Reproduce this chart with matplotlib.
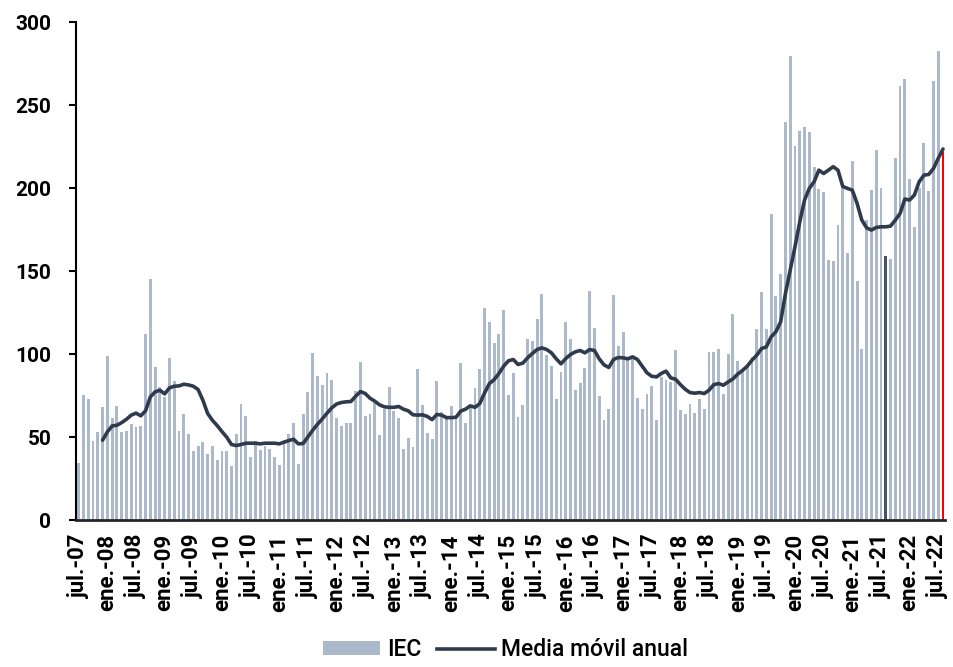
import numpy as np
import matplotlib.pyplot as plt
from matplotlib.lines import Line2D
from matplotlib.patches import Patch

# IEC monthly values, jul-07 .. aug-22
iec = [34.5, 75.5, 73, 48, 53, 68, 99, 61.5, 69, 53, 53.5, 58,
       56, 57, 112, 145, 92, 80.5, 74.5, 97.5, 84, 53.6, 64, 52,
       42, 45, 47, 40, 45, 36, 42, 41.5, 32.5, 51.8, 70.3, 62.9,
       38, 48, 42.6, 45, 43, 37.8, 33, 48.4, 51.8, 58.6, 33.7, 63.9,
       77, 100.6, 86.7, 81.3, 88.6, 84.7, 61.6, 57, 58.4, 58.6, 78, 95.4,
       63, 63.7, 70.7, 51.2, 67, 80, 65.7, 61.6, 42.7, 49.6, 44.4, 91,
       69.3, 52.4, 49.2, 84.1, 64.9, 61.8, 68.9, 62.7, 94.8, 58.4, 69.3, 79.7,
       91.2, 127.9, 119.5, 106.6, 112.4, 126.3, 75.3, 88.6, 62.4, 69.1, 109.2, 108.2,
       120.9, 136.5, 99.8, 92.8, 73.3, 89, 119.5, 109.4, 78.7, 82.9, 91.4, 138,
       115.5, 75.1, 60.2, 66.9, 135.5, 105.2, 113.5, 97, 97, 73.9, 66.7, 75.9,
       81.1, 60.4, 86.3, 84.7, 83.3, 102.8, 66.3, 63.9, 69.9, 64.5, 73.3, 67.1,
       101.4, 101.4, 103.2, 76.3, 100.2, 124.1, 95.8, 91, 93.4, 98.6, 115.3, 137.3,
       115.3, 184.7, 135.1, 148.4, 240, 279.7, 225.1, 234.5, 236.5, 233.5, 213, 199.6,
       197.6, 156.6, 156, 177.5, 202.2, 161.2, 216.3, 144, 103.2, 180.7, 198.8, 223.1,
       199.8, 159, 157.2, 218.1, 261.4, 265.9, 205.4, 176.7, 199.8, 226.9, 198.2, 264.7,
       282.7, 221.7]

# annual moving average, starts dec-07 (index 5)
ma_start = 5
media_movil = [48.2, 53.2, 56.8, 57.2, 58.8, 60.8, 63.3,
               64.5, 62.9, 65.9, 74.3, 77.3, 78.3, 76.1, 79.7, 80.7, 80.9, 81.9, 81.5,
               80.7, 78.7, 72.3, 64.3, 60.2, 57, 53.4, 50, 45.6, 45, 45.6, 46.4,
               46.4, 46.4, 46, 46.4, 46.4, 46.4, 46, 47, 48, 48.8, 46, 46.2,
               50.2, 54.2, 57.8, 61, 64.5, 67.7, 70, 70.9, 71.3, 71.5, 74.7, 77.5,
               76.3, 73.5, 71.7, 69.5, 68.3, 68, 68, 68.5, 66.9, 65.9, 63.5, 63.3,
               63.5, 62.5, 60.6, 63.7, 63.3, 61.8, 61.8, 62, 65.7, 66.9, 68.9, 68,
               70.3, 76.7, 82.3, 84.7, 88.4, 92.8, 96, 96.8, 93.8, 94.6, 97.8, 100.4,
               102.8, 103.8, 102.8, 100.8, 97.2, 94.2, 97.4, 99.8, 101.4, 102.2, 100.8, 102.8,
               102.2, 97.2, 93.6, 92, 96.8, 98, 97.8, 97.2, 98.4, 96.8, 92.8, 88.8,
               86.7, 86.3, 88.4, 89.8, 85.7, 84.9, 81.7, 78.9, 76.9, 76.5, 76.9, 76.3,
               78.3, 81.7, 82.3, 81.3, 83.3, 85.1, 88, 90.2, 92.8, 96.4, 99.4, 103.4,
               104.4, 110.4, 113.5, 119.5, 136.5, 150.6, 164.7, 179.7, 192.8, 199.8, 203.8, 210.8,
               208.8, 210.8, 212.9, 210.8, 201, 199.8, 198.8, 190.8, 180.7, 176.1, 174.7, 176.3,
               176.7, 176.7, 177.1, 180.7, 184.7, 193.4, 192.8, 195.8, 203.8, 207.8, 208.2, 211.8,
               217.9, 223.5]

meses = ["ene.", "feb.", "mar.", "abr.", "may.", "jun.",
         "jul.", "ago.", "sep.", "oct.", "nov.", "dic."]
start_year, start_month = 2007, 7

highlight = {169: "#44546A", 181: "#FF0000"}  # ago-21, ago-22

bar_color = "#ACB9CA"
line_color = "#2F3B4D"

plt.rcParams['font.family'] = ['Roboto', 'DejaVu Sans']

n = len(iec)
x = np.arange(n)
labels = []
for i in range(n):
    m = (start_month - 1 + i) % 12
    y = start_year + (start_month - 1 + i) // 12
    labels.append("{}-{:02d}".format(meses[m], y % 100))

colors = [highlight.get(i, bar_color) for i in range(n)]

fig = plt.figure(figsize=(9.54, 6.67), dpi=100)
ax = fig.add_axes([0.080, 0.220, 0.911, 0.747])

ax.bar(x, iec, width=0.6, color=colors, linewidth=0)
ax.plot(np.arange(ma_start, ma_start + len(media_movil)), media_movil,
        color=line_color, linewidth=2.6, solid_capstyle='round')

ax.set_xlim(-0.5, n - 0.5)
ax.set_ylim(0, 300)
ax.set_yticks(np.arange(0, 301, 50))
ax.tick_params(axis='y', labelsize=15, length=5, width=1.5, direction='out', pad=13)
ax.set_xticks(x[::6])
ax.set_xticklabels(labels[::6], rotation=90, fontsize=16)
ax.tick_params(axis='x', length=0, pad=10)
for lab in ax.get_yticklabels() + ax.get_xticklabels():
    lab.set_fontweight('bold')

for s in ['top', 'right']:
    ax.spines[s].set_visible(False)
ax.spines['left'].set_linewidth(1.5)
ax.spines['left'].set_color('black')
ax.spines['bottom'].set_linewidth(2)
ax.spines['bottom'].set_color('#262626')

handles = [Patch(facecolor=bar_color, edgecolor='none'),
           Line2D([0], [0], color=line_color, linewidth=2.6)]
leg = fig.legend(handles, ["IEC", "Media móvil anual"], loc='lower center',
                 bbox_to_anchor=(0.53, -0.022), ncol=2, frameon=False,
                 fontsize=16.5, handlelength=2.5, handleheight=0.55,
                 handletextpad=0.3, columnspacing=0.7)
for t in leg.get_texts():
    t.set_fontweight('medium')

fig.savefig("out.png", dpi=100)
